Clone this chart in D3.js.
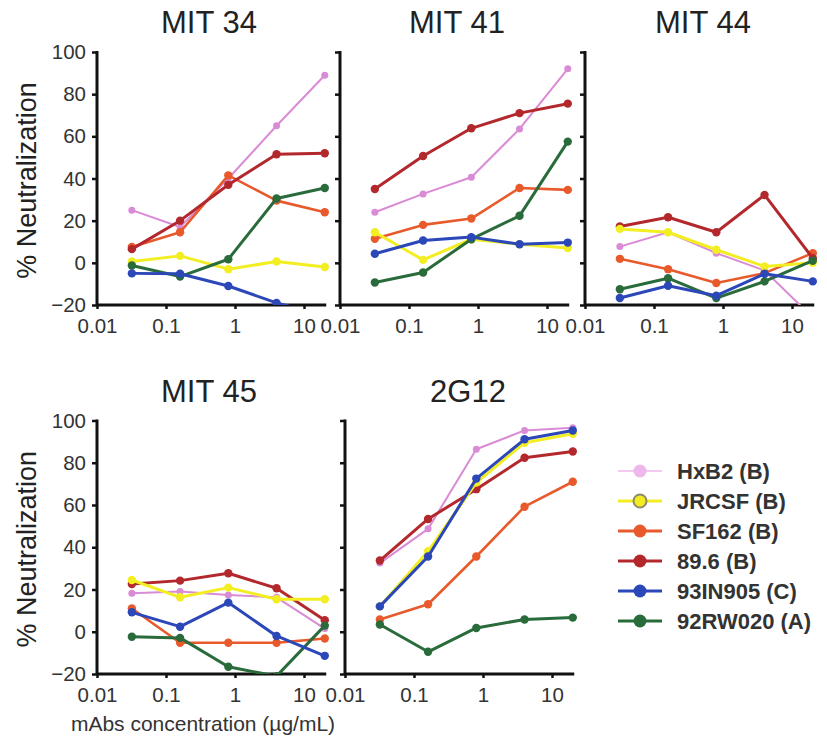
<!DOCTYPE html>
<html>
<head>
<meta charset="utf-8">
<script src="https://cdn.jsdelivr.net/npm/d3@7"></script>
<style>
  html, body { margin: 0; padding: 0; background: #fff; }
  svg { display: block; }
</style>
</head>
<body>
<svg id="chart" width="827" height="744"></svg>
<script>
// mAb concentrations tested (µg/mL), 5-fold dilutions
const concentrations = [0.032, 0.16, 0.8, 4, 20];

const strains = ["HxB2 (B)", "JRCSF (B)", "SF162 (B)", "89.6 (B)", "93IN905 (C)", "92RW020 (A)"];
const strainColors = ["#d98bd6", "#f3ee22", "#e85a2c", "#b3282c", "#2b47b8", "#2a6b3c"];

const antibodies = ["MIT 34", "MIT 41", "MIT 44", "MIT 45", "2G12"];

const xTicks = [0.01, 0.1, 1, 10];
const yTicks = [-20, 0, 20, 40, 60, 80, 100];

// % neutralization per strain (rows in strain order), per concentration
const mit34 = [
  [25, 17, 40, 65, 89],
  [0.6, 3.3, -3, 0.6, -2],
  [7.5, 14.5, 41.5, 29.5, 24],
  [6.5, 20, 37, 51.5, 52],
  [-5, -5.2, -11, -19, -25],
  [-1.3, -6.5, 1.7, 30.5, 35.5]
];
const mit41 = [
  [24, 32.7, 40.6, 63.5, 92],
  [14.5, 1.4, 11.2, 8.8, 7],
  [11.4, 18, 21, 35.5, 34.6],
  [35, 50.7, 63.8, 71, 75.5],
  [4.3, 10.6, 12.2, 8.8, 9.6],
  [-9.3, -4.6, 11.2, 22.3, 57.5]
];
const mit44 = [
  [7.7, 14.5, 4.6, -3.6, -26],
  [16.1, 14.5, 6.2, -1.7, 0],
  [1.9, -3, -9.6, -4.9, 4.6],
  [17.2, 21.6, 14.5, 32.2, 2.2],
  [-16.7, -10.9, -15.6, -5.2, -8.8],
  [-12.5, -7.3, -16.7, -8.8, 1]
];
const mit45 = [
  [18.2, 19, 17.4, 16.3, 1.5],
  [24.5, 16.3, 20.9, 15.4, 15.4],
  [11, -5.2, -5.2, -5.2, -3.2],
  [22.6, 24.2, 27.7, 20.6, 5.5],
  [9.2, 2.4, 13.8, -2, -11.4],
  [-2.4, -2.9, -16.6, -21, 2.9]
];
const g12 = [
  [32.5, 48.7, 86.4, 95.3, 96.6],
  [12, 38.1, 70.6, 89.5, 93.7],
  [5.8, 13, 35.6, 59.2, 71],
  [33.7, 53.4, 67.5, 82.4, 85.3],
  [12, 35.6, 72.5, 91.1, 95.3],
  [3.4, -9.5, 1.8, 5.8, 6.7]
];
const panelValues = [mit34, mit41, mit44, mit45, g12];

// drawing order of the series (back to front)
const drawOrder = [0, 2, 3, 1, 5, 4];
const lineWidths = [2, 3, 2.6, 3, 3, 3];

const svg = d3.select("#chart");
const FONT = "'Liberation Sans', Arial, sans-serif";

const decade = 69;
const xMax = 21;
const panelWidth = decade * Math.log10(xMax / 0.01);
const rows = [{top: 52, bottom: 305}, {top: 420.5, bottom: 674}];
const panels = [
  {x0: 97, row: 0, labels: true, titleX: 209},
  {x0: 340, row: 0, labels: false, titleX: 457},
  {x0: 585, row: 0, labels: false, titleX: 703},
  {x0: 97, row: 1, labels: true, titleX: 209},
  {x0: 345, row: 1, labels: false, titleX: 468}
];

panels.forEach((p, i) => {
  const r = rows[p.row];
  const x = d3.scaleLog().domain([0.01, xMax]).range([p.x0, p.x0 + panelWidth]);
  const y = d3.scaleLinear().domain([-20, 100]).range([r.bottom, r.top]);
  const g = svg.append("g");

  // title
  g.append("text")
    .attr("x", p.titleX).attr("y", r.top - 19)
    .attr("text-anchor", "middle")
    .attr("font-family", FONT).attr("font-size", 31)
    .attr("fill", "#222")
    .text(antibodies[i]);

  // clip so series running below -20 stop at the axis
  const clipId = "clip" + i;
  svg.append("clipPath").attr("id", clipId)
    .append("rect")
    .attr("x", p.x0 - 10).attr("y", r.top - 20)
    .attr("width", panelWidth + 20).attr("height", r.bottom - r.top + 20);

  // axes
  const yAxis = d3.axisLeft(y).tickValues(yTicks).tickSize(5).tickPadding(6)
    .tickFormat(d => p.labels ? (d < 0 ? "\u2212" + Math.abs(d) : d) : "");
  const xAxis = d3.axisBottom(x).tickValues(xTicks).tickSize(4).tickPadding(9)
    .tickFormat(d => d);

  const ya = g.append("g").attr("transform", `translate(${p.x0},0)`).call(yAxis);
  const xa = g.append("g").attr("transform", `translate(0,${r.bottom})`).call(xAxis);
  [ya, xa].forEach(a => {
    a.select(".domain").attr("stroke", "#111").attr("stroke-width", 3);
    a.selectAll(".tick line").attr("stroke", "#111").attr("stroke-width", 2.5);
    a.selectAll(".tick text").attr("font-family", FONT).attr("font-size", 20.5).attr("fill", "#333");
  });
  ya.select(".domain").attr("d", `M0,${r.bottom}V${r.top - 1}`);
  xa.select(".domain").attr("d", `M${p.x0},0H${p.x0 + panelWidth}`);

  // series
  const series = g.append("g").attr("clip-path", `url(#${clipId})`);
  const line = d3.line().x((d, k) => x(concentrations[k])).y(d => y(d));
  drawOrder.forEach(s => {
    const vals = panelValues[i][s];
    series.append("path")
      .attr("d", line(vals))
      .attr("fill", "none")
      .attr("stroke", strainColors[s])
      .attr("stroke-width", lineWidths[s])
      .attr("stroke-linejoin", "round");
    series.selectAll(null).data(vals).enter().append("circle")
      .attr("cx", (d, k) => x(concentrations[k]))
      .attr("cy", d => y(d))
      .attr("r", s === 0 ? 3.5 : 4.2)
      .attr("fill", strainColors[s]);
  });
});

// y-axis titles
rows.forEach(r => {
  svg.append("text")
    .attr("transform", `translate(36,${(r.top + r.bottom) / 2 + 2}) rotate(-90)`)
    .attr("text-anchor", "middle")
    .attr("font-family", FONT).attr("font-size", 27)
    .attr("fill", "#222")
    .text("% Neutralization");
});

// x-axis title
svg.append("text")
  .attr("x", 203).attr("y", 731)
  .attr("text-anchor", "middle")
  .attr("font-family", FONT).attr("font-size", 21)
  .attr("fill", "#333")
  .text("mAbs concentration (\u00b5g/mL)");

// legend
const legend = svg.append("g");
strains.forEach((name, s) => {
  const cy = 471 + s * 30;
  legend.append("line")
    .attr("x1", 618).attr("x2", 662).attr("y1", cy).attr("y2", cy)
    .attr("stroke", s === 0 ? "#efb8ec" : strainColors[s])
    .attr("stroke-width", s === 0 ? 1.5 : 3);
  legend.append("circle")
    .attr("cx", 640).attr("cy", cy).attr("r", 6.5)
    .attr("fill", s === 0 ? "#efb8ec" : strainColors[s])
    .attr("stroke", s === 1 ? "#8f8a6a" : "none")
    .attr("stroke-width", 2);
  legend.append("text")
    .attr("x", 677).attr("y", cy + 7.5)
    .attr("font-family", FONT).attr("font-size", 22).attr("font-weight", "bold")
    .attr("fill", "#333")
    .text(name);
});
</script>
</body>
</html>
